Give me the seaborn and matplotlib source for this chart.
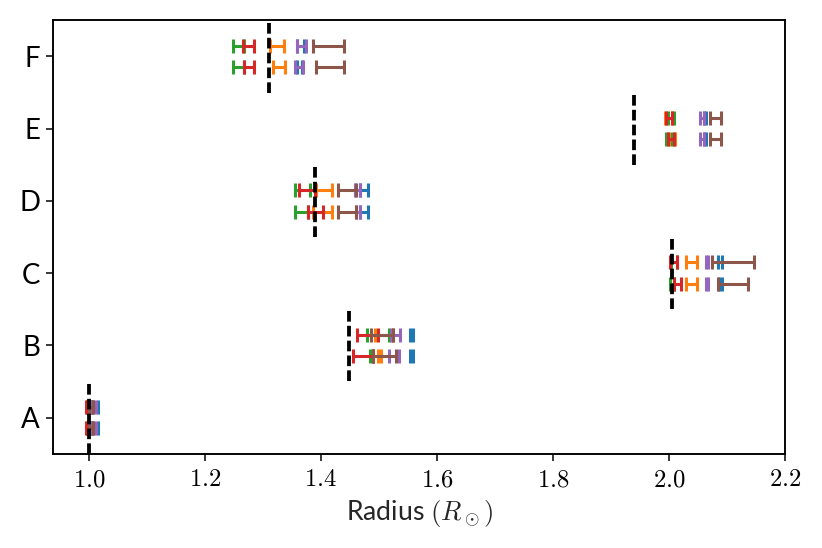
import seaborn as sns
import matplotlib.pyplot as plt
import numpy as np

# stars and their reference radius (dashed lines)
stars = ['A', 'B', 'C', 'D', 'E', 'F']
ref_radius = [1.000, 1.449, 2.006, 1.389, 1.939, 1.310]

# [low, high] per method, order: blue, orange, green, red, purple, brown
A_top = [[1.008, 1.015], [0.997, 1.003], [0.997, 1.003], [0.996, 1.003], [1.005, 1.012], [1.000, 1.008]]
A_bot = [[1.008, 1.015], [0.997, 1.003], [0.997, 1.003], [0.996, 1.004], [1.006, 1.012], [1.001, 1.007]]
B_top = [[1.553, 1.558], [1.494, 1.525], [1.480, 1.517], [1.463, 1.499], [1.520, 1.536], [1.486, 1.524]]
B_bot = [[1.553, 1.558], [1.499, 1.504], [1.484, 1.490], [1.455, 1.489], [1.517, 1.534], [1.489, 1.529]]
C_top = [[2.084, 2.091], [2.030, 2.049], [2.003, 2.013], [2.001, 2.013], [2.063, 2.068], [2.075, 2.146]]
C_bot = [[2.087, 2.092], [2.030, 2.049], [2.001, 2.008], [2.008, 2.020], [2.063, 2.068], [2.084, 2.137]]
D_top = [[1.467, 1.482], [1.391, 1.420], [1.355, 1.381], [1.363, 1.389], [1.458, 1.468], [1.430, 1.460]]
D_bot = [[1.467, 1.482], [1.387, 1.420], [1.355, 1.377], [1.377, 1.403], [1.460, 1.468], [1.429, 1.460]]
E_top = [[2.060, 2.063], [1.993, 2.005], [1.998, 2.008], [1.995, 2.006], [2.053, 2.060], [2.070, 2.089]]
E_bot = [[2.060, 2.063], [2.000, 2.010], [1.995, 2.005], [1.998, 2.008], [2.053, 2.060], [2.070, 2.089]]
F_top = [[1.358, 1.371], [1.312, 1.336], [1.248, 1.267], [1.265, 1.284], [1.358, 1.375], [1.387, 1.439]]
F_bot = [[1.358, 1.368], [1.317, 1.339], [1.248, 1.267], [1.267, 1.284], [1.356, 1.370], [1.391, 1.439]]

top_rows = [A_top, B_top, C_top, D_top, E_top, F_top]
bot_rows = [A_bot, B_bot, C_bot, D_bot, E_bot, F_bot]

sns.set_style('ticks')
plt.rcParams['font.family'] = ['Lato', 'DejaVu Sans']
plt.rcParams['mathtext.fontset'] = 'cm'
plt.rcParams['axes.edgecolor'] = 'black'
plt.rcParams['xtick.color'] = 'black'
plt.rcParams['ytick.color'] = 'black'

colors = sns.color_palette('tab10', 6)

fig, ax = plt.subplots(figsize=(6, 4), dpi=137)
fig.subplots_adjust(left=0.065, right=0.955, bottom=0.172, top=0.963)

for rows, dy in [(top_rows, 0.15), (bot_rows, -0.15)]:
    for m in range(6):
        lo = np.array([r[m][0] for r in rows])
        hi = np.array([r[m][1] for r in rows])
        mid = (lo + hi) / 2
        ax.errorbar(mid, np.arange(6) + dy, xerr=(hi - lo) / 2, fmt='none',
                    ecolor=colors[m], elinewidth=1.6, capsize=3.5, capthick=1.6)

for i, r in enumerate(ref_radius):
    ax.vlines(r, i - 0.5, i + 0.5, colors='k', linewidth=2, linestyles=(0, (2.8, 1.1)))

ax.set_xlim(0.939, 2.2)
ax.set_ylim(-0.5, 5.5)
ax.set_yticks(range(6))
ax.set_yticklabels(stars, fontsize=14.5)
xt = np.arange(1.0, 2.21, 0.2)
ax.set_xticks(xt)
ax.set_xticklabels([f'${v:.1f}$' for v in xt], fontsize=13)
ax.set_xlabel(r'Radius $(R_\odot)$', fontsize=14)
for s in ax.spines.values():
    s.set_linewidth(1.0)

fig.savefig('out.png')
